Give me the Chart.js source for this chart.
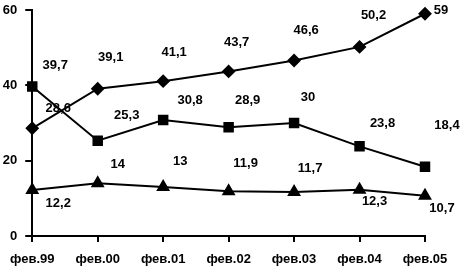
<!DOCTYPE html>
<html>
<head>
<meta charset="utf-8">
<script src="https://cdn.jsdelivr.net/npm/chart.js@4/dist/chart.umd.min.js"></script>
<style>
    body { margin: 0; background: #fff; }
    canvas { display: block; }
</style>
</head>
<body>
<canvas id="trendChart" width="463" height="275"></canvas>
<script>
// data
const months = ['фев.99', 'фев.00', 'фев.01', 'фев.02', 'фев.03', 'фев.04', 'фев.05'];
const diamondValues = [28.6, 39.1, 41.1, 43.7, 46.6, 50.2, 59];
const squareValues = [39.7, 25.3, 30.8, 28.9, 30, 23.8, 18.4];
const triangleValues = [12.2, 14, 13, 11.9, 11.7, 12.3, 10.7];
const yTicks = [0, 20, 40, 60];

const labelFont = 'bold 13px "Liberation Sans", Arial, sans-serif';

// draws value labels next to the points, shifted per point
const valueLabels = {
    id: 'valueLabels',
    afterDatasetsDraw(chart) {
        const ctx = chart.ctx;
        ctx.save();
        ctx.font = labelFont;
        ctx.fillStyle = '#000';
        ctx.textAlign = 'center';
        ctx.textBaseline = 'middle';
        chart.data.datasets.forEach((ds, i) => {
            const meta = chart.getDatasetMeta(i);
            meta.data.forEach((pt, j) => {
                const off = ds.labelOffsets[j];
                const txt = String(ds.data[j]).replace('.', ',');
                ctx.fillText(txt, pt.x + off[0], pt.y + off[1]);
            });
        });
        ctx.restore();
    }
};

const lineStyle = {
    borderColor: '#000',
    backgroundColor: '#000',
    borderWidth: 2,
    pointBorderColor: '#000',
    pointBackgroundColor: '#000',
    tension: 0,
    clip: false
};

const ctx = document.getElementById('trendChart').getContext('2d');
new Chart(ctx, {
    type: 'line',
    data: {
        labels: months,
        datasets: [
            {
                ...lineStyle,
                data: diamondValues,
                pointStyle: 'rectRot',
                pointRadius: 5.5,
                labelOffsets: [[26, -20], [13, -31], [11, -29], [8, -29], [12, -30], [14, -31], [16, -3]]
            },
            {
                ...lineStyle,
                data: squareValues,
                pointStyle: 'rect',
                pointRadius: 6,
                labelOffsets: [[23, -21], [29, -25], [27, -20], [19, -27], [14, -26], [23, -23], [22, -41]]
            },
            {
                ...lineStyle,
                data: triangleValues,
                pointStyle: 'triangle',
                pointRadius: 6,
                labelOffsets: [[26, 13], [20, -19], [17, -26], [17, -28], [16, -24], [15, 12], [17, 13]]
            }
        ]
    },
    options: {
        responsive: false,
        animation: false,
        layout: { padding: { top: 10, right: 38, left: 0, bottom: 0 } },
        plugins: {
            legend: { display: false },
            tooltip: { enabled: false }
        },
        scales: {
            x: {
                offset: false,
                afterFit(scale) { scale.height = 39; },
                border: { color: '#000', width: 2 },
                grid: { drawOnChartArea: false, drawTicks: true, tickLength: 6, color: '#000', lineWidth: 2 },
                ticks: {
                    color: '#000',
                    font: { family: '"Liberation Sans", Arial, sans-serif', size: 13, weight: 'bold' },
                    padding: 10,
                    maxRotation: 0
                }
            },
            y: {
                min: 0,
                max: 60,
                afterFit(scale) {
                    scale.width = 32;
                    scale.paddingTop = 0;
                    scale.paddingBottom = 0;
                },
                afterBuildTicks(scale) { scale.ticks = yTicks.map(v => ({ value: v })); },
                border: { color: '#000', width: 2 },
                grid: { drawOnChartArea: false, drawTicks: true, tickLength: 7, color: '#000', lineWidth: 2 },
                ticks: {
                    color: '#000',
                    font: { family: '"Liberation Sans", Arial, sans-serif', size: 13, weight: 'bold' },
                    padding: 8
                }
            }
        }
    },
    plugins: [valueLabels]
});
</script>
</body>
</html>
